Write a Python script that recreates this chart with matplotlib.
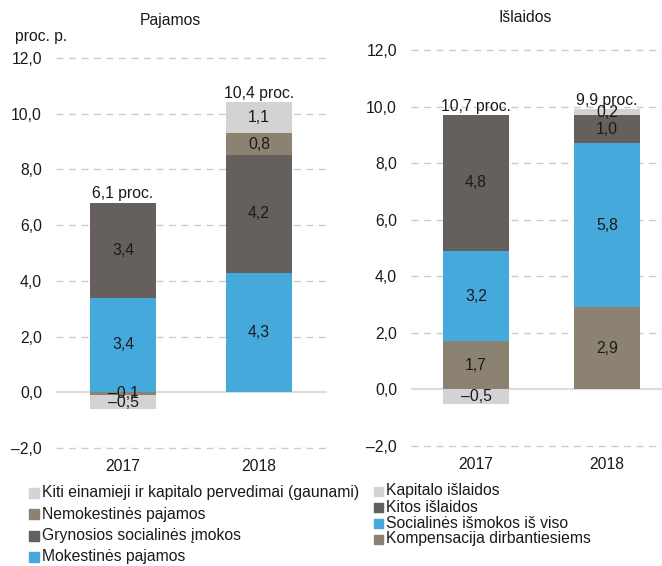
import matplotlib
matplotlib.use("Agg")
import matplotlib.pyplot as plt
from matplotlib.patches import Rectangle
import numpy as np

plt.rcParams['font.family'] = ['Liberation Sans', 'DejaVu Sans']

years = ["2017", "2018"]

# Pajamos (revenue), stacked bottom to top
rev_names = ["Mokestinės pajamos", "Grynosios socialinės įmokos",
             "Nemokestinės pajamos", "Kiti einamieji ir kapitalo pervedimai (gaunami)"]
rev_values = [
    [3.4, 4.3],
    [3.4, 4.2],
    [-0.1, 0.8],
    [-0.5, 1.1],
]
rev_colors = ["#45A9DB", "#655F5D", "#8C8272", "#D3D3D3"]
rev_totals = ["6,1 proc.", "10,4 proc."]

# Išlaidos (expenditure), stacked bottom to top
exp_names = ["Kompensacija dirbantiesiems", "Socialinės išmokos iš viso",
             "Kitos išlaidos", "Kapitalo išlaidos"]
exp_values = [
    [1.7, 2.9],
    [3.2, 5.8],
    [4.8, 1.0],
    [-0.5, 0.2],
]
exp_colors = ["#8C8272", "#45A9DB", "#655F5D", "#D3D3D3"]
exp_totals = ["10,7 proc.", "9,9 proc."]

yticks = [-2, 0, 2, 4, 6, 8, 10, 12]

FS = 11.3
TXT = "#1a1a1a"


def fmt(v):
    s = f"{abs(v):.1f}".replace(".", ",")
    return ("\u2013" + s) if v < 0 else s


def draw(ax, values, colors, totals, width):
    x = np.arange(len(years))
    pos = np.zeros(len(years))
    neg = np.zeros(len(years))
    for vals, c in zip(values, colors):
        vals = np.array(vals)
        bottoms = np.where(vals >= 0, pos, neg)
        ax.bar(x, vals, width, bottom=bottoms, color=c, zorder=3)
        for xi, v, b in zip(x, vals, bottoms):
            ax.text(xi, b + v / 2, fmt(v), ha="center", va="center",
                    fontsize=FS, color=TXT, zorder=4)
        pos = np.where(vals >= 0, pos + vals, pos)
        neg = np.where(vals < 0, neg + vals, neg)
    for xi, p, t in zip(x, pos, totals):
        ax.annotate(t, (xi, p), xytext=(0, 1), textcoords="offset points",
                    ha="center", va="bottom", fontsize=FS, color=TXT, zorder=5)
    ax.set_ylim(-2.05, 12.05)
    ax.set_yticks(yticks)
    ax.set_yticklabels([fmt(v) for v in yticks], fontsize=FS, color=TXT)
    ax.set_xticks(x)
    ax.set_xticklabels(years, fontsize=FS, color=TXT)
    for s in ax.spines.values():
        s.set_visible(False)
    ax.tick_params(length=0)
    ax.tick_params(axis="x", pad=7)
    ax.tick_params(axis="y", pad=10)
    for v in yticks:
        if v == 0:
            ax.axhline(0, color="#DDDDDD", lw=1.6, zorder=2)
        else:
            ax.axhline(v, color="#CCCCCC", lw=1, ls=(0, (5, 4)), zorder=1)


fig = plt.figure(figsize=(6.62, 5.66), dpi=100)
W, H = 662, 566

ax1 = fig.add_axes([56 / W, 1 - 449.5 / H, 271 / W, 393 / H])
ax1.set_xlim(-0.493, 1.5)
draw(ax1, rev_values, rev_colors, rev_totals, 0.49)

ax2 = fig.add_axes([411 / W, 1 - 447.5 / H, 251 / W, 399 / H])
ax2.set_xlim(-0.496, 1.42)
draw(ax2, exp_values, exp_colors, exp_totals, 0.5)

fig.text(170 / W, 1 - 21 / H, "Pajamos", ha="center", va="center", fontsize=FS, color=TXT)
fig.text(525 / W, 1 - 17 / H, "Išlaidos", ha="center", va="center", fontsize=FS, color=TXT)
fig.text(15 / W, 1 - 36 / H, "proc. p.", ha="left", va="center", fontsize=FS, color=TXT)


def legend(names, colors, x0, y0, dy, sq):
    for k, i in enumerate(range(len(names) - 1, -1, -1)):
        yc = y0 + k * dy
        fig.patches.append(Rectangle((x0 / W, 1 - (yc + sq / 2) / H), sq / W, sq / H,
                                     transform=fig.transFigure, color=colors[i]))
        fig.text((x0 + sq + 3) / W, 1 - yc / H, names[i], ha="left", va="center",
                 fontsize=FS, color=TXT)


legend(rev_names, rev_colors, 29, 493, 21.3, 10)
legend(exp_names, exp_colors, 374, 491, 16, 9)

fig.savefig("out.png", dpi=100)
